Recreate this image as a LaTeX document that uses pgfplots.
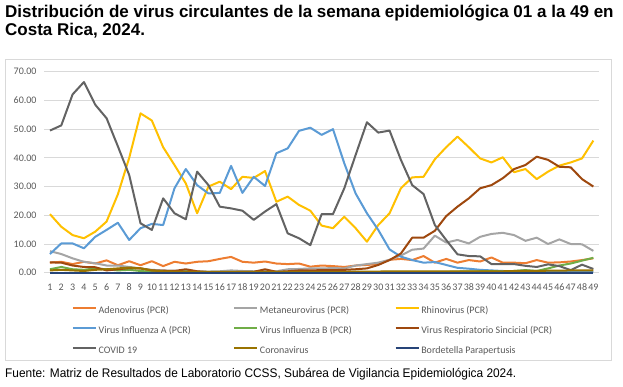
\documentclass[border=0pt]{standalone}
\usepackage{pgfplots}
\pgfplotsset{compat=1.18}
\usepackage{fontspec}
\setmainfont{Liberation Sans}
\newfontfamily\titlefont{Liberation Sans}[FakeStretch=1.0]
\newfontfamily\narrowfont{Liberation Sans}[FakeStretch=0.95]
\newfontfamily\calibri{Carlito}
\definecolor{cAdeno}{HTML}{ED7D31}
\definecolor{cMeta}{HTML}{A5A5A5}
\definecolor{cRhino}{HTML}{FFC000}
\definecolor{cFluA}{HTML}{5B9BD5}
\definecolor{cFluB}{HTML}{70AD47}
\definecolor{cRSV}{HTML}{9E480E}
\definecolor{cCovid}{HTML}{636363}
\definecolor{cCorona}{HTML}{997300}
\definecolor{cBorde}{HTML}{264478}
\definecolor{gridc}{HTML}{D9D9D9}
\definecolor{txtc}{HTML}{595959}
\begin{document}
\begin{tikzpicture}[x=1pt,y=1pt]
\path[use as bounding box] (0pt,0pt) rectangle (623pt,-386pt);
\node[anchor=base west,inner sep=0pt,font=\titlefont\bfseries\fontsize{17}{19}\selectfont] at (5pt,-17pt) {Distribución de virus circulantes de la semana epidemiológica 01 a la 49 en};
\node[anchor=base west,inner sep=0pt,font=\titlefont\bfseries\fontsize{17}{19}\selectfont] at (5pt,-35.5pt) {Costa Rica, 2024.};
\draw[gridc,line width=0.8pt] (5.7pt,-59pt) rectangle (611.7pt,-360pt);
\begin{axis}[
  at={(44.3pt,-272.7pt)}, anchor=south west,
  width=554.7pt, height=201pt, scale only axis,
  xmin=0.5, xmax=49.5, ymin=0, ymax=70,
  clip=false,
  axis line style={draw=none},
  major tick length=0pt,
  xtick={1,...,49},
  ytick={0,10,...,70},
  ymajorgrids, grid style={gridc,line width=0.8pt},
  /pgf/number format/assume math mode=true,
  ticklabel style={font=\calibri\fontsize{10}{12}\selectfont, text=txtc},
  yticklabel style={/pgf/number format/fixed, /pgf/number format/fixed zerofill, /pgf/number format/precision=2, anchor=east, inner sep=0pt, xshift=-7.6pt},
  xticklabel style={anchor=base, inner sep=0pt, yshift=-17.3pt},
  every axis plot/.append style={line width=2pt, line join=round, mark=none},
  legend columns=3,
  legend cell align=left,
  legend style={at={(0.0494,-0.165)}, anchor=north west, draw=none, fill=none,
    inner sep=0pt, row sep=11pt, column sep=0pt,
    nodes={inner xsep=1.5pt, inner ysep=0pt, text height=7pt, text depth=2pt,
      font=\calibri\fontsize{10}{12}\selectfont, text=txtc}},
  legend image code/.code={\draw[#1, line width=2pt] (0pt,3pt) -- (23.3pt,3pt);},
]
\addplot[cAdeno] coordinates {
(1,3.5)(2,3.8)(3,3.0)(4,3.8)(5,3.2)(6,4.3)(7,2.6)(8,4.0)(9,2.6)(10,4.0)
(11,2.3)(12,3.8)(13,3.2)(14,3.8)(15,4.0)(16,4.8)(17,5.5)(18,3.8)(19,3.5)(20,3.9)
(21,3.2)(22,3.0)(23,3.2)(24,2.1)(25,2.5)(26,2.3)(27,2.0)(28,2.5)(29,2.7)(30,3.0)
(31,4.5)(32,4.8)(33,4.4)(34,5.8)(35,3.5)(36,4.8)(37,3.5)(38,4.4)(39,3.9)(40,5.3)
(41,3.5)(42,3.5)(43,3.3)(44,4.4)(45,3.5)(46,3.6)(47,3.9)(48,4.4)(49,5.0)};
\addlegendentry{\makebox[133pt][l]{Adenovirus (PCR)}}
\addplot[cMeta] coordinates {
(1,7.5)(2,6.5)(3,5.0)(4,3.8)(5,3.3)(6,2.5)(7,2.5)(8,2.0)(9,1.5)(10,1.0)
(11,0.8)(12,0.7)(13,0.6)(14,0.5)(15,0.4)(16,0.5)(17,0.8)(18,0.6)(19,0.5)(20,0.6)
(21,0.5)(22,1.2)(23,1.3)(24,1.5)(25,1.5)(26,1.6)(27,1.5)(28,2.5)(29,3.0)(30,3.5)
(31,4.5)(32,6.0)(33,8.0)(34,8.4)(35,12.9)(36,10.5)(37,11.4)(38,10.2)(39,12.5)(40,13.5)
(41,13.9)(42,13.1)(43,11.1)(44,12.2)(45,10.0)(46,11.6)(47,10.0)(48,9.9)(49,7.6)};
\addlegendentry{\makebox[133pt][l]{Metaneurovirus (PCR)}}
\addplot[cRhino] coordinates {
(1,20.4)(2,16.0)(3,13.1)(4,12.0)(5,14.3)(6,17.8)(7,27.3)(8,40.0)(9,55.5)(10,53.0)
(11,43.7)(12,37.5)(13,31.1)(14,20.7)(15,30.0)(16,31.7)(17,29.1)(18,33.4)(19,33.0)(20,35.4)
(21,24.7)(22,26.5)(23,23.6)(24,21.6)(25,16.4)(26,15.5)(27,19.5)(28,15.5)(29,10.8)(30,16.6)
(31,20.7)(32,29.4)(33,33.2)(34,33.4)(35,39.5)(36,43.7)(37,47.4)(38,43.7)(39,39.8)(40,38.4)
(41,40.2)(42,35.0)(43,36.1)(44,32.6)(45,35.2)(46,37.3)(47,38.4)(48,39.8)(49,46.0)};
\addlegendentry{\makebox[133pt][l]{Rhinovirus (PCR)}}
\addplot[cFluA] coordinates {
(1,6.5)(2,10.2)(3,10.2)(4,8.5)(5,12.5)(6,14.9)(7,17.4)(8,11.4)(9,15.5)(10,17.0)
(11,16.6)(12,29.4)(13,36.1)(14,30.5)(15,27.6)(16,27.8)(17,37.2)(18,27.8)(19,33.4)(20,30.2)
(21,41.6)(22,43.3)(23,49.4)(24,50.5)(25,48.0)(26,50.0)(27,38.1)(28,27.6)(29,20.7)(30,14.9)
(31,8.1)(32,5.6)(33,4.4)(34,3.5)(35,3.7)(36,2.7)(37,1.7)(38,1.4)(39,1.0)(40,0.8)
(41,0.6)(42,0.5)(43,0.8)(44,0.5)(45,0.6)(46,0.4)(47,0.3)(48,0.3)(49,0.2)};
\addlegendentry{\makebox[133pt][l]{Virus Influenza A (PCR)}}
\addplot[cFluB] coordinates {
(1,1.2)(2,2.0)(3,1.2)(4,1.0)(5,1.5)(6,1.2)(7,0.8)(8,1.0)(9,0.6)(10,0.3)
(11,0.2)(12,0.2)(13,0.5)(14,0.2)(15,0.1)(16,0.1)(17,0.1)(18,0.1)(19,0.1)(20,0.1)
(21,0.1)(22,0.1)(23,0.1)(24,0.1)(25,0.1)(26,0.1)(27,0.1)(28,0.1)(29,0.2)(30,0.2)
(31,0.3)(32,0.3)(33,0.3)(34,0.3)(35,0.3)(36,0.3)(37,0.4)(38,0.5)(39,0.5)(40,0.6)
(41,0.4)(42,0.6)(43,0.9)(44,0.6)(45,1.5)(46,2.5)(47,3.2)(48,4.2)(49,5.2)};
\addlegendentry{\makebox[133pt][l]{Virus Influenza B (PCR)}}
\addplot[cRSV] coordinates {
(1,3.6)(2,3.5)(3,2.5)(4,2.0)(5,1.9)(6,0.8)(7,1.2)(8,1.6)(9,1.5)(10,0.8)
(11,0.7)(12,0.6)(13,1.2)(14,0.5)(15,0.2)(16,0.2)(17,0.2)(18,0.3)(19,0.3)(20,1.2)
(21,0.3)(22,0.5)(23,0.8)(24,0.8)(25,0.9)(26,0.9)(27,1.0)(28,1.2)(29,1.5)(30,2.7)
(31,4.4)(32,6.7)(33,12.2)(34,12.2)(35,14.6)(36,19.7)(37,23.0)(38,25.9)(39,29.4)(40,30.5)
(41,32.9)(42,36.1)(43,37.5)(44,40.4)(45,39.3)(46,36.9)(47,36.7)(48,32.6)(49,30.0)};
\addlegendentry{\makebox[133pt][l]{Virus Respiratorio Sincicial (PCR)}}
\addplot[cCovid] coordinates {
(1,49.5)(2,51.3)(3,62.1)(4,66.4)(5,58.5)(6,53.8)(7,44.0)(8,34.0)(9,17.2)(10,14.9)
(11,25.9)(12,20.7)(13,18.6)(14,35.2)(15,30.5)(16,23.0)(17,22.4)(18,21.6)(19,18.4)(20,21.3)
(21,23.9)(22,13.7)(23,12.0)(24,9.6)(25,20.4)(26,20.4)(27,29.4)(28,41.0)(29,52.4)(30,48.8)
(31,49.5)(32,39.3)(33,30.5)(34,27.4)(35,16.6)(36,11.4)(37,6.4)(38,5.8)(39,5.7)(40,3.0)
(41,3.0)(42,3.0)(43,2.4)(44,2.0)(45,2.9)(46,2.3)(47,0.9)(48,2.8)(49,1.3)};
\addlegendentry{\makebox[133pt][l]{COVID 19}}
\addplot[cCorona] coordinates {
(1,0.8)(2,1.0)(3,0.8)(4,0.6)(5,1.0)(6,1.2)(7,1.5)(8,1.8)(9,1.5)(10,0.8)
(11,0.5)(12,0.4)(13,0.3)(14,0.3)(15,0.3)(16,0.3)(17,0.3)(18,0.3)(19,0.3)(20,0.3)
(21,0.3)(22,0.3)(23,0.3)(24,0.3)(25,0.3)(26,0.3)(27,0.3)(28,0.4)(29,0.4)(30,0.4)
(31,0.5)(32,0.5)(33,0.5)(34,0.5)(35,0.5)(36,0.5)(37,0.5)(38,0.5)(39,0.5)(40,0.5)
(41,0.5)(42,0.6)(43,0.6)(44,0.6)(45,0.7)(46,0.7)(47,0.8)(48,0.8)(49,0.8)};
\addlegendentry{\makebox[133pt][l]{Coronavirus}}
\addplot[cBorde] coordinates {
(1,0)(2,0)(3,0)(4,0)(5,0)(6,0)(7,0)(8,0)(9,0)(10,0)
(11,0)(12,0)(13,0)(14,0)(15,0)(16,0)(17,0)(18,0)(19,0)(20,0)
(21,0)(22,0)(23,0)(24,0)(25,0)(26,0)(27,0)(28,0)(29,0)(30,0)
(31,0)(32,0)(33,0)(34,0)(35,0)(36,0)(37,0)(38,0)(39,0)(40,0)
(41,0)(42,0)(43,0)(44,0)(45,0)(46,0)(47,0)(48,0)(49,0)};
\addlegendentry{\makebox[133pt][l]{Bordetella Parapertusis}}
\end{axis}
\node[anchor=base west,inner sep=0pt,font=\narrowfont\fontsize{12.5}{14}\selectfont] at (5pt,-377pt) {Fuente: Matriz de Resultados de Laboratorio CCSS, Subárea de Vigilancia Epidemiológica 2024.};
\end{tikzpicture}
\end{document}
